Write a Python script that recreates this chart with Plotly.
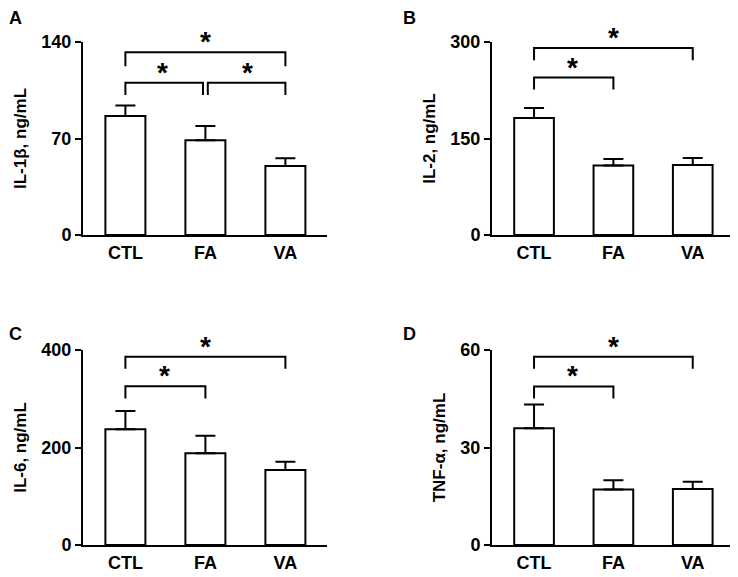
import plotly.graph_objects as go

categories = ["CTL", "FA", "VA"]

il1b_mean = [86.3, 68.7, 50.0]
il1b_err = [7.7, 10.3, 5.6]
il2_mean = [182, 108, 109]
il2_err = [15.5, 10, 10.5]
il6_mean = [237.5, 188, 154]
il6_err = [37.5, 36, 17]
tnf_mean = [35.9, 17.1, 17.2]
tnf_err = [7.3, 2.8, 2.3]

titles = ["IL-1β, ng/mL", "IL-2, ng/mL", "IL-6, ng/mL", "TNF-α, ng/mL"]
panel_labels = ["A", "B", "C", "D"]
y_ticks = [[0, 70, 140], [0, 150, 300], [0, 200, 400], [0, 30, 60]]

# brackets: (x_start, x_end, y_bar, y_leg_end, star_x)
brackets_A = [(0, 2, 132.5, 122.5, 1.0),
              (0, 0.97, 110.4, 101.5, 0.46),
              (1.03, 2, 110.4, 101.5, 1.52)]
brackets_B = [(0, 2, 290.7, 271.6, 1.0),
              (0, 1, 244.7, 226, 0.49)]
brackets_C = [(0, 2, 386, 361.6, 1.0),
              (0, 1, 325.5, 300.5, 0.49)]
brackets_D = [(0, 2, 57.9, 54.2, 1.0),
              (0, 1, 48.8, 45.1, 0.49)]

# page body has an 8px margin, so the figure is shifted by OFF
OFF = 8
W, H = 738 - OFF, 577 - OFF
# pixel boxes of plot areas in window coords: (left, right, top, bottom)
boxes = [(83, 327, 42, 235), (492, 734, 42, 235), (83, 327, 350, 545), (492, 734, 350, 545)]
label_pos = [(8, 8), (402, 8), (8, 324), (402, 324)]

means = [il1b_mean, il2_mean, il6_mean, tnf_mean]
errs = [il1b_err, il2_err, il6_err, tnf_err]
brackets = [brackets_A, brackets_B, brackets_C, brackets_D]

FONT = "Arial, Liberation Sans, Helvetica, sans-serif"

fig = go.Figure()
layout = dict(width=W, height=H, margin=dict(l=0, r=0, t=0, b=0, autoexpand=False),
              plot_bgcolor="white", paper_bgcolor="white", showlegend=False,
              font=dict(family=FONT, color="black"))
shapes = []
annotations = []

for i in range(4):
    xa = "x" if i == 0 else f"x{i+1}"
    ya = "y" if i == 0 else f"y{i+1}"
    l, r, t, b = [v - OFF for v in boxes[i]]
    fig.add_trace(go.Bar(
        x=[0, 1, 2], y=means[i], width=0.5,
        marker=dict(color="white", line=dict(color="black", width=2)),
        error_y=dict(type="data", symmetric=False, array=errs[i],
                     arrayminus=[0, 0, 0], color="black", thickness=2, width=10),
        xaxis=xa, yaxis=ya))
    ymax = y_ticks[i][-1]
    layout["xaxis" if i == 0 else f"xaxis{i+1}"] = dict(
        domain=[l / W, r / W], range=[-0.53, 2.52], anchor=ya, automargin=False,
        tickvals=[0, 1, 2], ticktext=categories, ticks="",
        showline=True, linecolor="black", linewidth=2, showgrid=False, zeroline=False,
        tickfont=dict(size=18, weight="bold", family=FONT), fixedrange=True)
    layout["yaxis" if i == 0 else f"yaxis{i+1}"] = dict(
        domain=[(H - b) / H, (H - t) / H], range=[0, ymax], anchor=xa, automargin=False,
        tickvals=y_ticks[i], ticks="outside", ticklen=6, tickwidth=2, tickcolor="black",
        showline=True, linecolor="black", linewidth=2, showgrid=False, zeroline=False,
        tickfont=dict(size=18, weight="bold", family=FONT),
        title=dict(text=titles[i], font=dict(size=17, weight="bold", family=FONT), standoff=10))
    for (x0, x1, yb, yl, sx) in brackets[i]:
        shapes.append(dict(type="path", xref=xa, yref=ya,
                           path=f"M {x0},{yl} L {x0},{yb} L {x1},{yb} L {x1},{yl}",
                           line=dict(color="black", width=2)))
        annotations.append(dict(x=sx, y=yb, xref=xa, yref=ya, text="*", showarrow=False,
                                font=dict(size=28, weight="bold", family=FONT),
                                yanchor="bottom", xanchor="center", yshift=-7))
    px, py = label_pos[i]
    annotations.append(dict(x=(px - OFF) / W, y=1 - (py - OFF) / H, xref="paper", yref="paper",
                            text=panel_labels[i], showarrow=False, xanchor="left",
                            yanchor="top", yshift=1, borderpad=0,
                            font=dict(size=18, weight="bold", family=FONT)))

layout["shapes"] = shapes
layout["annotations"] = annotations
fig.update_layout(**layout)
fig.write_html("out.html")
